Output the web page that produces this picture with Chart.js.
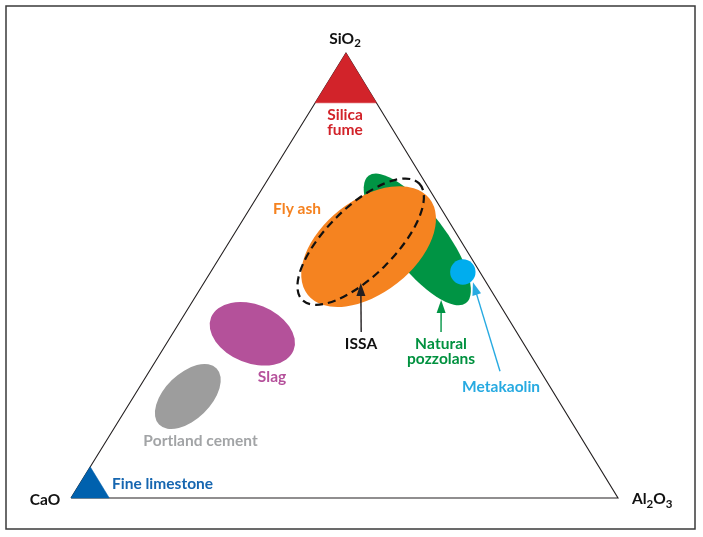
<!DOCTYPE html>
<html><head><meta charset="utf-8">
<script src="https://cdn.jsdelivr.net/npm/chart.js@4.4.0/dist/chart.umd.min.js"></script>
<style>html,body{margin:0;padding:0;background:#fff}canvas{display:block}</style>
</head><body>
<canvas id="c" width="703" height="537"></canvas>
<script>
// ---- DATA (compositions as [CaO, SiO2, Al2O3] in %) ----
const vertexNames = ['CaO', 'Al_2O_3', 'SiO_2'];
const vertexComps = [[100, 0, 0], [0, 0, 100], [0, 100, 0]];
const regionNames = ['Portland cement', 'Slag', 'Natural pozzolans', 'Fly ash', 'ISSA'];
const regionCentres = [[67.3, 22.8, 9.9], [48.6, 36.9, 14.6], [7.8, 58.1, 34.1], [17.5, 56.5, 26.0], [18.3, 57.6, 24.0]];
const regionTips = [[58.9, 29.1, 12.0], [42.8, 33.2, 24.0], [6.0, 43.8, 50.2], [1.0, 67.3, 31.7], [1.2, 70.7, 28.1]];
const regionBreadths = [0.57, 0.66, 0.35, 0.60, 0.415];
const silicaFume = [[0, 100, 0], [11.2, 88.8, 0], [0, 88.8, 11.2]];
const fineLimestone = [[100, 0, 0], [93, 0, 7], [93, 7, 0]];
const metakaolin = [[3.1, 50.8, 46.1]];
const arrowNames = ['ISSA', 'Natural pozzolans', 'Metakaolin'];
const arrowTails = [[28.4, 37.3, 34.3], [13.8, 37.3, 48.9], [7.4, 28.5, 64.1]];
const arrowHeads = [[23.0, 48.3, 28.7], [10.2, 44.5, 45.3], [2.4, 48.5, 49.1]];
const labelTexts = ['Silica\nfume', 'Fly ash', 'ISSA', 'Natural\npozzolans', 'Metakaolin', 'Slag', 'Portland cement', 'Fine limestone'];

// ---- LAYOUT / STYLE ----
const APEX_X = 50.27; // horizontal position of SiO2 apex, % of base
function toXY(c) { return { x: c[2] + c[1] * APEX_X / 100, y: c[1] }; }

const regionStyles = [
  { fill: '#9d9d9d' }, { fill: '#b4519a' }, { fill: '#009444' }, { fill: '#f58320' },
  { stroke: '#111111', width: 2.2, dash: [8, 5] }
];
const arrowColors = ['#231f20', '#009444', '#27aae1'];
// label anchors in plot units (x: 0..100 along base, y: 0..100 height)
const labelLayout = [
  { x: 50.09, y: 84.94, color: '#d2232a', align: 'center' },
  { x: 41.32, y: 63.82, color: '#f58220', align: 'center' },
  { x: 53.02, y: 33.48, color: '#111111', align: 'center' },
  { x: 67.64, y: 33.48, color: '#00913f', align: 'center' },
  { x: 78.61, y: 23.82, color: '#27aae1', align: 'center' },
  { x: 36.75, y: 25.96, color: '#b5519b', align: 'center' },
  { x: 23.67, y: 11.69, color: '#a2a4a6', align: 'center' },
  { x: 7.50, y: 2.13, color: '#1666b0', align: 'left' }
];
const vertexLayout = [
  { x: -4.75, y: -1.57, align: 'center' },
  { x: 102.56, y: -1.46, align: 'left' },
  { x: 50.09, y: 102.13, align: 'center' }
];
const FONT = 'Lato, "Open Sans", sans-serif';
const FS = 15.5, SUB = 11.5, LINE = 14.5;

function drawRich(ctx, str, x, y, align, color) {
  const parts = [];
  for (let i = 0; i < str.length; i++) {
    if (str[i] === '_') { parts.push({ t: str[i + 1], sub: true }); i++; }
    else parts.push({ t: str[i], sub: false });
  }
  let w = 0;
  parts.forEach(p => { ctx.font = `700 ${p.sub ? SUB : FS}px ${FONT}`; p.w = ctx.measureText(p.t).width; w += p.w; });
  let cx = align === 'center' ? x - w / 2 : x;
  ctx.fillStyle = color; ctx.textAlign = 'left'; ctx.textBaseline = 'alphabetic';
  parts.forEach(p => { ctx.font = `700 ${p.sub ? SUB : FS}px ${FONT}`; ctx.fillText(p.t, cx, y + (p.sub ? 3.5 : 0)); cx += p.w; });
}

const ternaryPlugin = {
  id: 'ternary',
  beforeDraw(chart) {
    const ctx = chart.ctx;
    ctx.save();
    ctx.fillStyle = '#fff'; ctx.fillRect(0, 0, chart.width, chart.height);
    ctx.strokeStyle = '#3a3a3a'; ctx.lineWidth = 1.5;
    ctx.strokeRect(6, 6, 689, 523);
    ctx.restore();
  },
  beforeDatasetsDraw(chart) {
    const ctx = chart.ctx, xs = chart.scales.x, ys = chart.scales.y;
    ctx.save();
    regionCentres.forEach((c, i) => {
      const p = toXY(c), t = toXY(regionTips[i]);
      const cx = xs.getPixelForValue(p.x), cy = ys.getPixelForValue(p.y);
      const tx = xs.getPixelForValue(t.x), ty = ys.getPixelForValue(t.y);
      const a = Math.hypot(tx - cx, ty - cy), ang = Math.atan2(ty - cy, tx - cx);
      const st = regionStyles[i];
      ctx.beginPath();
      ctx.ellipse(cx, cy, a, a * regionBreadths[i], ang, 0, Math.PI * 2);
      if (st.fill) { ctx.fillStyle = st.fill; ctx.fill(); }
      if (st.stroke) { ctx.strokeStyle = st.stroke; ctx.lineWidth = st.width; ctx.setLineDash(st.dash); ctx.stroke(); ctx.setLineDash([]); }
    });
    ctx.restore();
  },
  afterDatasetsDraw(chart) {
    const ctx = chart.ctx, xs = chart.scales.x, ys = chart.scales.y;
    ctx.save();
    arrowTails.forEach((tc, i) => {
      const a = toXY(tc), b = toXY(arrowHeads[i]);
      const x1 = xs.getPixelForValue(a.x), y1 = ys.getPixelForValue(a.y);
      const x2 = xs.getPixelForValue(b.x), y2 = ys.getPixelForValue(b.y);
      const ang = Math.atan2(y2 - y1, x2 - x1), L = 13, H = 4.5;
      const bx = x2 - L * Math.cos(ang), by = y2 - L * Math.sin(ang);
      ctx.strokeStyle = arrowColors[i]; ctx.fillStyle = arrowColors[i]; ctx.lineWidth = 1.4;
      ctx.beginPath(); ctx.moveTo(x1, y1); ctx.lineTo(bx + Math.cos(ang), by + Math.sin(ang)); ctx.stroke();
      ctx.beginPath(); ctx.moveTo(x2, y2);
      ctx.lineTo(bx + H * Math.sin(ang), by - H * Math.cos(ang));
      ctx.lineTo(bx - H * Math.sin(ang), by + H * Math.cos(ang));
      ctx.closePath(); ctx.fill();
    });
    labelTexts.forEach((txt, i) => {
      const L = labelLayout[i];
      const x = xs.getPixelForValue(L.x), y = ys.getPixelForValue(L.y);
      txt.split('\n').forEach((line, k) => drawRich(ctx, line, x, y + k * LINE, L.align, L.color));
    });
    vertexNames.forEach((n, i) => {
      const L = vertexLayout[i];
      drawRich(ctx, n, xs.getPixelForValue(L.x), ys.getPixelForValue(L.y), L.align, '#111111');
    });
    ctx.restore();
  }
};

const outline = vertexComps.concat([vertexComps[0]]).map(toXY);
new Chart(document.getElementById('c'), {
  type: 'scatter',
  data: {
    datasets: [
      { label: 'Metakaolin', data: metakaolin.map(toXY), pointRadius: 12.7, pointHoverRadius: 12.7,
        backgroundColor: '#00adee', borderWidth: 0, showLine: false, clip: false },
      { label: 'Silica fume', data: silicaFume.concat([silicaFume[0]]).map(toXY), showLine: true, fill: 'shape',
        backgroundColor: '#d2232a', borderColor: '#d2232a', borderWidth: 0.5, pointRadius: 0, tension: 0, clip: false },
      { label: 'Fine limestone', data: fineLimestone.concat([fineLimestone[0]]).map(toXY), showLine: true, fill: 'shape',
        backgroundColor: '#0061ae', borderColor: '#0061ae', borderWidth: 0.5, pointRadius: 0, tension: 0, clip: false },
      { label: 'outline', data: outline, showLine: true, fill: false, borderColor: '#231f20', borderWidth: 1.1,
        pointRadius: 0, tension: 0, clip: false }
    ]
  },
  options: {
    responsive: false, devicePixelRatio: 1, animation: false,
    layout: { padding: { left: 71, right: 85, top: 53, bottom: 39 } },
    scales: {
      x: { type: 'linear', min: 0, max: 100, display: false },
      y: { type: 'linear', min: 0, max: 100, display: false }
    },
    plugins: { legend: { display: false }, tooltip: { enabled: false } },
    events: []
  },
  plugins: [ternaryPlugin]
});
</script>
</body></html>
